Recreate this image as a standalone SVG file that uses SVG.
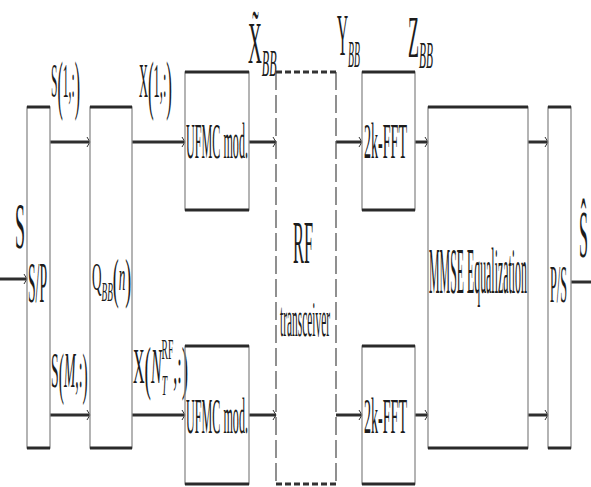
<svg xmlns="http://www.w3.org/2000/svg" width="591" height="487" viewBox="0 0 591 487">
<style>
text { font-family: "Liberation Serif", "Times New Roman", serif; fill: #1c1c1c; }
.side { stroke: #8c8c8c; stroke-width: 1.3; fill: none; }
.edge { stroke: #2a2a2a; stroke-width: 3; }
.dside { stroke: #555555; stroke-width: 1.3; stroke-dasharray: 18 5; fill: none; }
.dedge { stroke: #333333; stroke-width: 3; stroke-dasharray: 6 3; }
.conn { stroke: #2e2e2e; stroke-width: 3; fill: none; }
.it { font-style: italic; }
</style>
<defs>
<marker id="ah" markerUnits="userSpaceOnUse" markerWidth="8" markerHeight="12" viewBox="-6 -6 8 12" refX="0" refY="0" orient="auto">
<path d="M-3,-5 Q-1,-1.5 0,0 Q-1,1.5 -3,5" fill="none" stroke="#333333" stroke-width="1"/>
</marker>
</defs>
<rect x="0" y="0" width="591" height="487" fill="#ffffff"/>

<g id="connectors">
<line class="conn" x1="0" y1="279" x2="27" y2="279" marker-end="url(#ah)"/>
<line class="conn" x1="50" y1="142" x2="90" y2="142" marker-end="url(#ah)"/>
<line class="conn" x1="50" y1="415" x2="90" y2="415" marker-end="url(#ah)"/>
<line class="conn" x1="132" y1="142" x2="185" y2="142" marker-end="url(#ah)"/>
<line class="conn" x1="132" y1="415" x2="185" y2="415" marker-end="url(#ah)"/>
<line class="conn" x1="249" y1="142" x2="276" y2="142" marker-end="url(#ah)"/>
<line class="conn" x1="249" y1="415" x2="276" y2="415" marker-end="url(#ah)"/>
<line class="conn" x1="336" y1="142" x2="362" y2="142" marker-end="url(#ah)"/>
<line class="conn" x1="336" y1="415" x2="362" y2="415" marker-end="url(#ah)"/>
<line class="conn" x1="415" y1="142" x2="428" y2="142" marker-end="url(#ah)"/>
<line class="conn" x1="415" y1="415" x2="428" y2="415" marker-end="url(#ah)"/>
<line class="conn" x1="528" y1="142" x2="548" y2="142" marker-end="url(#ah)"/>
<line class="conn" x1="528" y1="415" x2="548" y2="415" marker-end="url(#ah)"/>
<line class="conn" x1="571" y1="282" x2="591" y2="282"/>
</g>

<g id="labels">
<text font-size="65" x="15" y="248" textLength="10" lengthAdjust="spacingAndGlyphs">S</text>
<text transform="translate(51,97) scale(0.242,1)" font-size="48">S<tspan font-size="66" dy="10">(</tspan><tspan dy="-10">1,:</tspan><tspan font-size="66" dy="10">)</tspan></text>
<text transform="translate(139,97) scale(0.258,1)" font-size="48">X<tspan font-size="66" dy="10">(</tspan><tspan dy="-10">1,:</tspan><tspan font-size="66" dy="10">)</tspan></text>
<text transform="translate(51,387) scale(0.27,1)" font-size="51">S<tspan font-size="58" dy="6">(</tspan><tspan class="it" dy="-6">M</tspan>,:<tspan font-size="58" dy="6">)</tspan></text>
<text transform="translate(133,383) scale(0.32,1)" font-size="50">X<tspan font-size="60" dy="5">(</tspan><tspan class="it" dy="-5">N</tspan><tspan class="it" font-size="30" dy="12">T</tspan><tspan font-size="30" dx="-17" dy="-36">RF</tspan><tspan dy="24">,:</tspan><tspan font-size="60" dy="5">)</tspan></text>
<text transform="translate(248,63) scale(0.32,1)" font-size="60">X̃<tspan class="it" font-size="38" dy="13">BB</tspan></text>
<text transform="translate(337,55) scale(0.256,1)" font-size="60">Y<tspan class="it" font-size="38" dy="12">BB</tspan></text>
<text transform="translate(408,57) scale(0.30,1)" font-size="60">Z<tspan class="it" font-size="38" dy="11">BB</tspan></text>
<text font-size="68" x="579" y="257" textLength="9" lengthAdjust="spacingAndGlyphs">Ŝ</text>
</g>

<g id="sp">
<rect class="side" x="27" y="107" width="23" height="341"/>
<line class="edge" x1="27" y1="107" x2="50" y2="107"/>
<line class="edge" x1="27" y1="448" x2="50" y2="448"/>
<text font-size="56" x="28" y="302" textLength="19" lengthAdjust="spacingAndGlyphs">S/P</text>
</g>

<g id="qbb">
<rect class="side" x="90" y="107" width="42" height="341"/>
<line class="edge" x1="90" y1="107" x2="132" y2="107"/>
<line class="edge" x1="90" y1="448" x2="132" y2="448"/>
<text transform="translate(92,290) scale(0.33,1)" font-size="40">Q<tspan class="it" font-size="28" dy="11">BB</tspan><tspan font-size="54" dy="-4">(</tspan><tspan class="it" dy="-7">n</tspan><tspan font-size="54" dy="7">)</tspan></text>
</g>

<g id="ufmc1">
<rect class="side" x="185" y="72" width="64" height="138"/>
<line class="edge" x1="185" y1="72" x2="249" y2="72"/>
<line class="edge" x1="185" y1="210" x2="249" y2="210"/>
<text font-size="50" x="186" y="158" textLength="62" lengthAdjust="spacingAndGlyphs">UFMC mod.</text>
</g>

<g id="ufmc2">
<rect class="side" x="185" y="346" width="64" height="138"/>
<line class="edge" x1="185" y1="346" x2="249" y2="346"/>
<line class="edge" x1="185" y1="484" x2="249" y2="484"/>
<text font-size="50" x="186" y="433" textLength="62" lengthAdjust="spacingAndGlyphs">UFMC mod.</text>
</g>

<g id="rf">
<line class="dside" x1="276" y1="72" x2="276" y2="484"/>
<line class="dside" x1="336" y1="72" x2="336" y2="484"/>
<line class="dedge" x1="276" y1="72" x2="336" y2="72"/>
<line class="dedge" x1="276" y1="484" x2="336" y2="484"/>
<text font-size="62" x="293" y="263" textLength="20" lengthAdjust="spacingAndGlyphs">RF</text>
<text font-size="50" x="280" y="336" textLength="50" lengthAdjust="spacingAndGlyphs">transceiver</text>
</g>

<g id="fft1">
<rect class="side" x="362" y="72" width="53" height="138"/>
<line class="edge" x1="362" y1="72" x2="415" y2="72"/>
<line class="edge" x1="362" y1="210" x2="415" y2="210"/>
<text font-size="50" x="364" y="158" textLength="43" lengthAdjust="spacingAndGlyphs">2k-FFT</text>
</g>

<g id="fft2">
<rect class="side" x="362" y="346" width="53" height="138"/>
<line class="edge" x1="362" y1="346" x2="415" y2="346"/>
<line class="edge" x1="362" y1="484" x2="415" y2="484"/>
<text font-size="50" x="364" y="433" textLength="43" lengthAdjust="spacingAndGlyphs">2k-FFT</text>
</g>

<g id="mmse">
<rect class="side" x="428" y="107" width="100" height="341"/>
<line class="edge" x1="428" y1="107" x2="528" y2="107"/>
<line class="edge" x1="428" y1="448" x2="528" y2="448"/>
<text font-size="65" x="429" y="293" textLength="98" lengthAdjust="spacingAndGlyphs">MMSE Equalization</text>
</g>

<g id="ps">
<rect class="side" x="548" y="107" width="23" height="341"/>
<line class="edge" x1="548" y1="107" x2="571" y2="107"/>
<line class="edge" x1="548" y1="448" x2="571" y2="448"/>
<text font-size="52" x="550" y="302" textLength="17" lengthAdjust="spacingAndGlyphs">P/S</text>
</g>
</svg>
